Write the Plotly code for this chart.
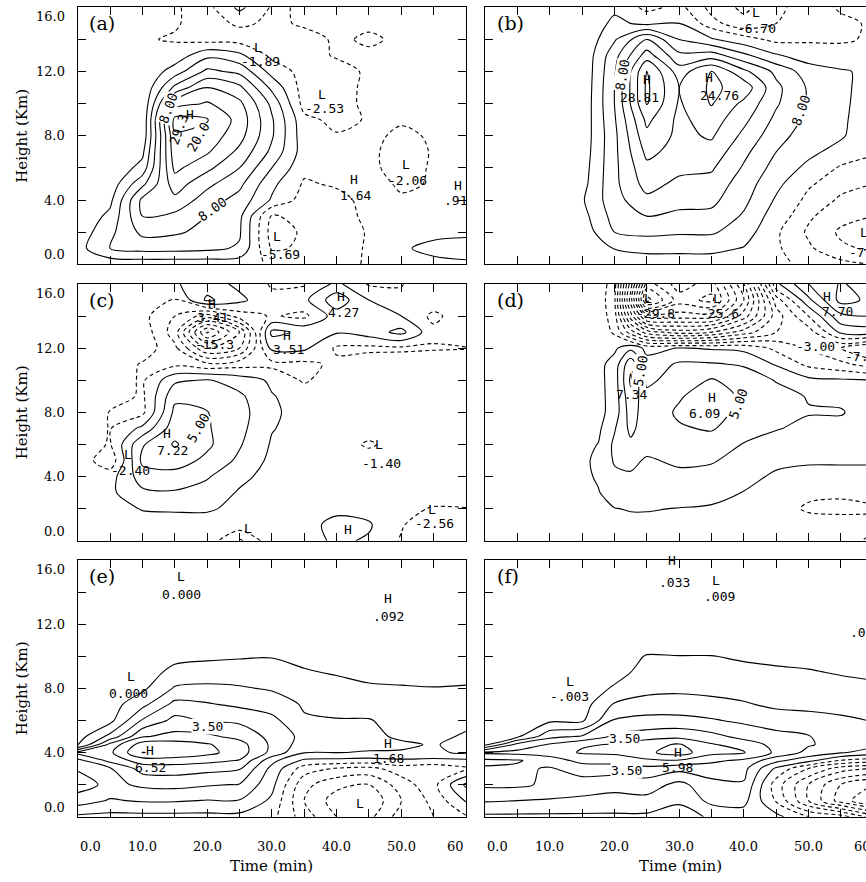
import plotly.graph_objects as go

# ---------------------------------------------------------------- grids
TIME = [0, 5, 10, 15, 20, 25, 30, 35, 40, 45, 50, 55, 60]
TIME_D = [0, 5, 10, 15, 17.5, 20, 22.5, 25, 30, 35, 40, 45, 50, 55, 60]
HEIGHT = list(range(17))
HEIGHT_FINE = [0, 1, 2, 3, 3.5, 4, 4.5, 5, 6, 7, 8, 9, 10, 11, 12, 13, 14, 15, 16]

TIME_TICKS = [0, 10, 20, 30, 40, 50, 60]
TIME_TICK_TEXT = ["0.0", "10.0", "20.0", "30.0", "40.0", "50.0", "60"]
HEIGHT_TICKS = [0, 4, 8, 12, 16]
HEIGHT_TICK_TEXT = ["0.0", "4.0", "8.0", "12.0", "16.0"]

# ---------------------------------------------------------------- fields (rows bottom -> top)
FIELD_A = [
    [0.3, 1.5, 1.5, 1.5, 1.5, 1.5, -0.5, -2.0, -1.5, 0.5, 2.0, 3.0, 3.2],
    [2.5, 8.0, 9.5, 9.5, 9.0, 7.5, -4.5, -3.5, -2.0, 0.5, 3.5, 5.0, 6.0],
    [1.5, 7.0, 13.0, 12.5, 11.0, 8.5, -5.69, -3.5, -1.8, 0.3, 2.5, 3.0, 3.0],
    [0.8, 5.0, 16.0, 15.0, 12.0, 9.0, -4.5, -2.5, -1.5, 0.8, 1.0, 1.5, 1.5],
    [0.3, 3.0, 17.0, 19.0, 14.0, 10.5, 3.5, -1.8, -1.3, 1.3, 0.5, 0.8, 0.8],
    [0.3, 1.5, 11.0, 22.0, 17.0, 13.0, 5.0, -0.5, 0.5, 1.64, -0.6, 0.3, 0.91],
    [0.3, 0.5, 5.5, 25.0, 21.0, 16.0, 8.0, 1.0, 1.0, 1.2, -2.06, 0.6, 0.6],
    [0.3, 0.3, 3.0, 26.5, 24.5, 19.0, 11.0, 2.0, 0.8, 0.8, -1.6, 0.3, 0.3],
    [0.3, 0.3, 1.0, 27.5, 26.5, 21.5, 12.5, 1.5, 0.3, 0.6, -0.5, 0.3, 0.3],
    [0.3, 0.3, 0.5, 29.3, 28.3, 22.5, 12.5, 1.0, -1.0, 0.3, 0.3, 0.3, 0.3],
    [0.3, 0.3, 0.3, 22.0, 24.5, 21.0, 11.0, -1.5, -2.53, 1.5, 0.3, 0.3, 0.3],
    [0.3, 0.3, 0.3, 13.0, 20.0, 17.0, 7.0, -1.8, -1.8, 1.0, 0.3, 0.3, 0.3],
    [0.3, 0.3, 0.3, 6.0, 13.0, 11.0, 2.5, -1.5, -1.2, 0.5, 0.3, 0.3, 0.3],
    [0.3, 0.3, 0.3, 1.5, 7.0, 5.0, -1.0, -1.2, 0.3, 0.3, 0.3, 0.3, 0.3],
    [0.3, 0.3, 0.3, -0.3, -1.5, -1.6, -1.89, -0.8, 0.3, -0.25, 0.3, 0.3, 0.3],
    [0.3, 0.3, 0.3, 0.3, -1.3, 0.5, -0.5, 0.3, 0.3, 0.3, 0.3, 0.3, 0.3],
    [0.3, 0.3, 0.3, 0.3, -1.2, 5.0, -0.4, 0.3, 0.3, 0.3, 0.3, 0.3, 0.3],
]

FIELD_B = [
    [0.3, 0.3, 0.3, 0.3, 1.5, 2.0, 2.0, 2.0, 1.5, 0.5, -0.5, -2.0, -3.0],
    [0.3, 0.3, 0.3, 0.5, 4.2, 5.0, 5.0, 5.0, 3.8, 0.5, -2.5, -5.5, -6.5],
    [0.3, 0.3, 0.3, 1.5, 8.0, 9.0, 8.5, 8.5, 6.0, 0.5, -3.5, -6.5, -7.8],
    [0.3, 0.3, 0.3, 2.5, 9.5, 12.0, 11.0, 11.0, 7.5, 2.0, -2.5, -5.0, -6.0],
    [0.3, 0.3, 0.3, 3.5, 10.5, 15.0, 13.5, 13.0, 9.0, 3.5, -1.0, -3.5, -4.5],
    [0.3, 0.3, 0.3, 2.5, 11.0, 17.5, 15.0, 14.5, 10.0, 5.0, 0.5, -2.0, -3.0],
    [0.3, 0.3, 0.3, 2.0, 11.0, 19.0, 17.0, 16.5, 11.5, 6.5, 3.0, -0.5, -1.5],
    [0.3, 0.3, 0.3, 1.5, 11.0, 21.0, 18.5, 18.5, 13.0, 8.0, 5.0, 2.5, 0.5],
    [0.3, 0.3, 0.3, 1.2, 11.0, 23.0, 19.0, 20.5, 15.0, 9.5, 6.0, 4.5, 1.0],
    [0.3, 0.3, 0.3, 1.0, 11.5, 25.0, 19.0, 22.0, 17.0, 11.0, 7.0, 4.8, 1.2],
    [0.3, 0.3, 0.3, 0.8, 12.0, 28.3, 19.5, 24.3, 19.0, 12.5, 7.5, 5.0, 1.5],
    [0.3, 0.3, 0.3, 0.6, 12.0, 28.81, 20.0, 24.76, 22.5, 13.0, 7.5, 5.0, 2.0],
    [0.3, 0.3, 0.3, 0.5, 11.5, 28.2, 18.0, 24.2, 17.0, 11.0, 6.0, 4.5, 3.0],
    [0.3, 0.3, 0.3, 0.5, 10.5, 22.0, 13.0, 14.0, 9.0, 4.5, 2.0, 1.0, 0.5],
    [0.3, 0.3, 0.3, 0.5, 7.5, 16.0, 8.0, 4.5, 1.5, -1.0, -0.5, -0.3, 0.3],
    [0.3, 0.3, 0.3, 0.5, 5.0, 3.0, 4.0, -2.0, -5.0, -3.0, -1.0, -0.5, 0.3],
    [0.3, 0.3, 0.3, 0.5, 3.0, -1.0, 1.0, -4.0, -6.70, -4.0, -1.0, 0.3, 0.3],
]

FIELD_C = [
    [0.3, 0.3, 0.3, 0.3, 0.3, -3.36, 0.3, 0.3, 1.3, 0.8, -1.2, -1.5, -1.2],
    [0.3, 0.3, 0.3, 0.3, 0.3, 0.3, 0.3, 0.3, 1.6, 1.2, -0.8, -2.56, -1.8],
    [0.3, 0.3, 1.1, 1.2, 1.2, 0.6, 0.3, 0.3, 0.5, 0.3, -0.3, -1.2, -1.1],
    [0.3, 0.6, 2.6, 2.8, 2.2, 0.8, 0.3, 0.3, 0.3, 0.3, 0.3, 0.3, 0.3],
    [0.3, 0.2, 4.0, 4.2, 3.2, 1.5, 0.3, 0.3, 0.3, 0.3, 0.3, 0.3, 0.3],
    [0.3, -2.40, 5.5, 6.0, 4.5, 2.6, 0.5, 0.3, 0.3, 0.3, 0.3, 0.3, 0.3],
    [0.3, -1.2, 4.8, 7.22, 5.4, 3.2, 0.8, 0.3, 0.3, -1.40, 0.3, 0.3, 0.3],
    [0.3, -1.1, 1.5, 6.2, 5.2, 3.6, 1.1, 0.3, 0.3, 0.3, 0.3, 0.3, 0.3],
    [0.3, -1.1, -1.5, 5.5, 5.05, 3.8, 1.3, 0.3, 0.3, 0.3, 0.3, 0.3, 0.3],
    [0.3, 0.3, -1.4, 4.5, 4.6, 3.4, 1.1, 0.3, 0.3, 0.3, 0.3, 0.3, 0.3],
    [0.3, 0.3, -1.3, 2.6, 3.2, 2.0, 0.7, -1.3, 0.3, 0.3, 0.3, 0.3, 0.3],
    [0.3, 0.3, -1.2, -1.5, -2.5, -1.8, -1.6, -1.5, -0.6, 0.3, 0.3, 0.3, 0.3],
    [0.3, 0.3, 0.2, -2.5, -9.0, -7.0, 1.5, 1.4, -1.3, -1.5, -1.4, -1.2, -1.1],
    [0.3, 0.3, 0.3, -4.0, -15.3, -9.0, 3.51, 2.6, 1.2, 2.0, 3.6, -0.5, 0.3],
    [0.3, 0.3, -0.4, -3.0, -6.0, -2.0, -0.8, -1.5, 2.0, 3.0, 1.0, -1.5, 0.3],
    [0.3, 0.3, 0.3, -1.2, 3.41, 1.5, -0.5, 0.5, 4.27, 1.0, -0.6, 0.3, 0.3],
    [0.3, 0.3, 0.3, 0.8, 2.0, 0.5, -1.2, -1.2, 1.5, -1.2, -1.1, 0.3, 0.3],
]

FIELD_D = [
    [0.3, 0.3, 0.3, 0.3, 0.3, 0.3, 0.3, 0.3, 0.3, 0.3, 0.3, 0.3, 0.3, -0.5, -1.3],
    [0.3, 0.3, 0.3, 0.3, 0.4, 0.5, 0.6, 0.6, 0.6, 0.6, 0.5, 0.3, 0.2, 0.05, -0.6],
    [0.3, 0.3, 0.3, 0.4, 0.7, 0.95, 1.1, 1.1, 0.95, 0.8, 0.5, 0.2, -1.4, -1.6, -1.2],
    [0.3, 0.3, 0.3, 0.5, 0.9, 1.8, 2.0, 2.0, 1.9, 1.6, 0.95, 0.4, -0.4, -0.6, -0.4],
    [0.3, 0.3, 0.3, 0.6, 1.2, 2.6, 2.8, 2.7, 2.6, 2.3, 1.4, 0.8, 0.5, 0.5, 0.5],
    [0.3, 0.3, 0.3, 0.6, 1.4, 3.2, 3.4, 2.8, 3.3, 3.2, 2.2, 1.3, 1.2, 1.2, 1.2],
    [0.3, 0.3, 0.3, 0.5, 1.05, 3.4, 4.6, 3.6, 4.0, 4.0, 2.9, 2.3, 1.8, 1.5, 1.3],
    [0.3, 0.3, 0.3, 0.5, 0.6, 2.8, 5.5, 3.9, 4.8, 5.2, 3.8, 3.1, 2.6, 2.2, 1.45],
    [0.3, 0.3, 0.3, 0.4, 0.4, 1.8, 6.0, 3.8, 5.3, 5.8, 4.4, 3.5, 3.1, 3.2, 1.6],
    [0.3, 0.3, 0.3, 0.4, 0.4, 1.8, 6.5, 3.5, 4.8, 6.09, 4.6, 3.6, 2.9, 2.4, 1.4],
    [0.3, 0.3, 0.3, 0.4, 0.4, 1.9, 7.34, 2.6, 3.8, 5.2, 4.0, 2.9, 1.5, 1.3, 1.05],
    [0.3, 0.3, 0.3, 0.4, 0.4, 1.8, 6.5, 1.8, 3.3, 3.2, 2.8, 0.8, -1.5, -2.5, -4.0],
    [0.3, 0.3, 0.3, 0.3, 0.3, 0.6, 2.5, 0.4, 1.1, 0.8, 0.5, -1.5, -3.2, -5.0, -7.5],
    [0.3, 0.3, 0.3, 0.3, 0.3, -1.3, -6.0, -10.0, -12.0, -11.0, -8.0, -5.0, -4.0, 1.5, 2.0],
    [0.3, 0.3, 0.3, 0.3, 0.2, -2.0, -12.0, -20.0, -20.0, -20.0, -14.0, -6.0, -1.0, 4.5, 5.0],
    [0.3, 0.3, 0.3, 0.3, 0.2, -2.5, -16.0, -29.8, -24.0, -25.6, -17.0, -4.0, 2.5, 7.70, 6.5],
    [0.3, 0.3, 0.3, 0.3, 0.2, -2.0, -14.0, -26.0, -22.0, -24.0, -15.0, 0.5, 5.0, 7.2, 6.0],
]

FIELD_E = [
    [0.3, 0.2, 0.2, 0.2, 0.2, 0.2, -0.2, -2.0, -3.5, -3.8, -2.0, -1.5, -0.6],
    [2.0, 1.4, 1.6, 1.6, 1.45, 1.45, 0.3, -2.5, -4.0, -4.3, -2.5, -1.2, 0.6],
    [3.0, 2.2, 2.7, 2.8, 2.6, 2.45, 0.8, -2.2, -3.2, -3.5, -2.0, -0.8, 1.7],
    [2.4, 2.4, 3.9, 4.0, 3.8, 3.6, 1.2, -1.0, -1.6, -1.8, -1.0, -1.2, -0.7],
    [2.2, 3.8, 5.0, 5.0, 4.8, 4.45, 1.8, 0.3, 0.2, 0.1, 0.3, 0.2, 0.3],
    [3.8, 4.3, 6.52, 6.3, 5.8, 5.0, 3.2, 1.55, 1.52, 1.45, 1.45, 1.4, 1.6],
    [0.2, 3.8, 6.0, 6.0, 5.6, 4.9, 3.3, 2.0, 1.6, 1.68, 1.6, 1.45, 1.7],
    [0.05, 1.8, 4.4, 4.8, 4.7, 4.2, 3.2, 2.2, 1.6, 1.65, 1.4, 1.3, 1.6],
    [0.02, 0.2, 2.6, 3.8, 3.4, 3.3, 2.8, 1.6, 1.55, 1.55, 1.2, 1.2, 1.3],
    [0.01, 0.05, 1.2, 2.8, 2.6, 2.3, 2.0, 1.4, 1.2, 1.1, 0.9, 0.9, 0.95],
    [0.01, 0.02, 0.3, 1.6, 1.7, 1.6, 1.4, 1.2, 0.9, 0.6, 0.55, 0.52, 0.55],
    [0.01, 0.01, 0.0, 0.8, 1.0, 1.0, 0.9, 0.6, 0.4, 0.3, 0.3, 0.3, 0.3],
    [0.01, 0.01, 0.01, 0.2, 0.3, 0.4, 0.45, 0.2, 0.15, 0.1, 0.1, 0.1, 0.1],
    [0.01, 0.01, 0.01, 0.02, 0.02, 0.02, 0.02, 0.02, 0.02, 0.03, 0.03, 0.02, 0.02],
    [0.01, 0.01, 0.01, 0.01, 0.01, 0.01, 0.02, 0.02, 0.03, 0.05, 0.04, 0.03, 0.02],
    [0.01, 0.01, 0.01, 0.01, 0.01, 0.01, 0.02, 0.03, 0.05, 0.092, 0.06, 0.03, 0.02],
    [0.01, 0.01, 0.01, 0.005, 0.01, 0.01, 0.02, 0.02, 0.03, 0.05, 0.04, 0.02, 0.02],
    [0.01, 0.01, 0.01, 0.0, 0.01, 0.01, 0.01, 0.02, 0.02, 0.03, 0.02, 0.02, 0.01],
    [0.01, 0.01, 0.01, 0.01, 0.01, 0.01, 0.01, 0.01, 0.01, 0.02, 0.02, 0.01, 0.01],
]

FIELD_F = [
    [0.3, 0.3, 0.3, 0.3, 0.3, 0.3, 0.2, 0.6, 1.0, 0.8, -0.5, -1.0, -3.0],
    [1.6, 1.5, 1.4, 1.3, 1.2, 1.2, 0.6, 1.8, 1.8, -0.6, -3.5, -6.0, -7.5],
    [2.7, 2.7, 2.3, 2.0, 1.8, 2.0, 1.2, 2.2, 2.4, -1.0, -3.5, -5.5, -6.5],
    [2.6, 2.7, 2.4, 3.0, 3.0, 3.2, 2.8, 3.0, 2.8, 0.3, -1.5, -3.0, -3.5],
    [2.3, 2.4, 3.0, 3.8, 3.9, 4.3, 4.4, 3.7, 3.3, 1.8, 0.8, -0.6, -1.0],
    [3.7, 3.8, 4.0, 4.6, 4.7, 5.3, 5.98, 4.8, 4.6, 3.3, 2.2, 1.6, 1.0],
    [0.2, 2.8, 3.6, 4.4, 4.55, 5.2, 5.6, 4.6, 4.0, 3.2, 2.6, 2.1, 1.8],
    [0.02, 0.3, 2.2, 2.6, 3.7, 4.0, 4.2, 3.8, 3.2, 2.8, 2.55, 2.0, 1.8],
    [0.01, 0.02, 0.3, 0.3, 2.6, 2.8, 2.8, 2.6, 2.3, 2.0, 1.9, 1.7, 1.45],
    [0.01, 0.01, 0.05, 0.05, 1.6, 1.9, 1.9, 1.8, 1.6, 1.3, 1.2, 1.1, 1.0],
    [0.01, 0.01, -0.003, 0.01, 0.6, 1.2, 1.3, 1.2, 1.1, 0.9, 0.85, 0.7, 0.6],
    [0.01, 0.01, 0.0, 0.01, 0.2, 0.8, 0.8, 0.75, 0.7, 0.6, 0.55, 0.45, 0.4],
    [0.01, 0.01, 0.01, 0.01, 0.05, 0.55, 0.52, 0.52, 0.4, 0.35, 0.3, 0.25, 0.2],
    [0.01, 0.01, 0.01, 0.01, 0.01, 0.05, 0.05, 0.05, 0.05, 0.05, 0.05, 0.05, 0.05],
    [0.01, 0.01, 0.01, 0.01, 0.01, 0.01, 0.02, 0.02, 0.02, 0.02, 0.02, 0.01, 0.002],
    [0.01, 0.01, 0.01, 0.01, 0.01, 0.01, 0.02, 0.015, 0.01, 0.01, 0.01, 0.01, 0.01],
    [0.01, 0.01, 0.01, 0.01, 0.01, 0.015, 0.025, 0.012, 0.015, 0.01, 0.01, 0.01, 0.01],
    [0.015, 0.015, 0.015, 0.015, 0.015, 0.02, 0.03, 0.009, 0.015, 0.015, 0.015, 0.015, 0.015],
    [0.02, 0.02, 0.02, 0.02, 0.02, 0.025, 0.033, 0.02, 0.02, 0.02, 0.02, 0.02, 0.02],
]

# contour levels (start, end, step): solid for positive, dashed for negative
LEVELS = {
    "a": ((4, 28, 4), (-4, 0, 4)),
    "b": ((4, 28, 4), (-6, 0, 3)),
    "c": ((1, 7, 2), (-15, -1, 2)),
    "d": ((1, 7, 2), (-29, -1, 2)),
    "e": ((0.5, 6.5, 1), (-7.5, -0.5, 1)),
    "f": ((0.5, 6.5, 1), (-7.5, -0.5, 1)),
}

# extreme / contour labels: (text, time, height, angle, on_line)
LABELS = {
    "a": [("L", 27.9, 13.5), ("-1.89", 28.2, 12.65), ("L", 37.8, 10.6), ("-2.53", 38.1, 9.7),
          ("H", 42.7, 5.3), ("1.64", 43.0, 4.3), ("L", 50.7, 6.2), ("-2.06", 50.9, 5.2),
          ("H", 58.8, 4.9), (".91", 58.3, 4.0), ("L", 30.8, 1.76), ("-5.69", 31.3, 0.64),
          ("H", 17.4, 9.3), ("29.3", 15.6, 8.4, -70),
          ("8.00", 20.8, 3.4, -35, True), ("8.00", 14.0, 9.7, -70, True), ("20.0", 18.6, 7.9, -60, True)],
    "b": [("L", 41.9, 15.7), ("-6.70", 42.0, 14.7), ("H", 25.0, 11.5), ("28.81", 23.9, 10.4),
          ("H", 34.6, 11.6), ("24.76", 36.3, 10.5), ("8.00", 48.8, 9.6, -70, True),
          ("8.00", 21.3, 11.8, -80, True), ("L", 58.6, 2.0)],
    "c": [("H", 20.8, 14.8), ("3.41", 20.9, 13.9), ("-15.3", 21.2, 12.2),
          ("H", 32.4, 12.8), ("3.51", 32.5, 11.9), ("H", 40.7, 15.2), ("4.27", 41.0, 14.2),
          ("H", 13.8, 6.7), ("7.22", 14.6, 5.6), ("5.00", 18.6, 7.0, -60, True),
          ("L", 7.8, 5.35), ("-2.40", 8.1, 4.35), ("L", 46.6, 6.0), ("-1.40", 47.0, 4.8),
          ("L", 54.8, 1.95), ("-2.56", 55.1, 1.1), ("H", 41.8, 0.67), ("L", 26.3, 0.79)],
    "d": [("L", 25.2, 15.1), ("-29.8", 26.3, 14.15), ("L", 35.8, 15.1), ("-25.6", 36.3, 14.15),
          ("H", 52.8, 15.25), ("7.70", 54.5, 14.3), ("-3.00", 51.0, 12.1, 0, True),
          ("H", 23.2, 10.3), ("7.34", 22.7, 9.1), ("5.00", 24.1, 10.6, -80, True),
          ("H", 35.1, 8.9), ("6.09", 33.9, 7.95), ("5.00", 39.1, 8.5, -70, True)],
    "e": [("L", 16.0, 14.95), ("0.000", 16.1, 13.85), ("L", 8.2, 8.75), ("0.000", 7.8, 7.65),
          ("3.50", 20.0, 5.6, 0, True), ("H", 11.2, 4.1), ("6.52", 11.2, 3.04),
          ("H", 48.0, 4.54), ("1.68", 48.0, 3.6), ("H", 48.0, 13.6), (".092", 48.1, 12.5),
          ("L", 43.6, 0.8)],
    "f": [("H", 28.9, 15.95), (".033", 29.3, 14.6), ("L", 35.7, 14.75), (".009", 36.2, 13.75),
          ("L", 13.1, 8.4), ("-.003", 13.1, 7.5), ("L", 58.9, 12.2),
          ("3.50", 21.5, 4.85, 0, True), ("3.50", 21.9, 2.9, 0, True),
          ("H", 29.8, 4.0), ("5.98", 29.7, 3.05)],
}
# labels cut by the right border, anchored at their left end
EDGE_LABELS = {"b": [("-7.80", 55.9, 0.75)], "d": [("-7.50", 55.3, 11.5)], "f": [(".002", 56.1, 11.5)]}

PANELS = [
    ("a", TIME, HEIGHT, FIELD_A),
    ("b", TIME, HEIGHT, FIELD_B),
    ("c", TIME, HEIGHT, FIELD_C),
    ("d", TIME_D, HEIGHT, FIELD_D),
    ("e", TIME, HEIGHT_FINE, FIELD_E),
    ("f", TIME, HEIGHT_FINE, FIELD_F),
]

# ---------------------------------------------------------------- page geometry
W, H = 866, 882
PX_PER_MIN = 388.3 / 60.0
LEFT_DOM = [77.7 / W, 466.0 / W]
RIGHT_DOM = [485.0 / W, 1.0]
RIGHT_END = (W - 485.0) / PX_PER_MIN
ROW_DOMS = [[1 - 264.3 / H, 1 - 7.3 / H], [1 - 540.7 / H, 1 - 284.0 / H], [1 - 816.7 / H, 1 - 560.0 / H]]

LABEL_FONT = dict(family="DejaVu Sans Mono", size=13, color="black")
SERIF = "DejaVu Serif"

fig = go.Figure()
black = [[0, "black"], [1, "black"]]

for i, (name, tt, hh, field) in enumerate(PANELS):
    idx = i + 1
    xa = "x" if idx == 1 else f"x{idx}"
    ya = "y" if idx == 1 else f"y{idx}"
    (ps, pe, pd), (ns, ne, nd) = LEVELS[name]
    for (s, e, d, dash) in [(ps, pe, pd, "solid"), (ns, ne, nd, "4px,3px")]:
        fig.add_trace(go.Contour(
            x=tt, y=hh, z=field, xaxis=xa, yaxis=ya,
            autocontour=False,
            contours=dict(start=s, end=e, size=d, coloring="lines", showlabels=False),
            colorscale=black, showscale=False, hoverinfo="skip",
            line=dict(width=1.1, dash=dash, smoothing=0.9),
        ))

    left = (i % 2 == 0)
    row = i // 2
    axis_common = dict(showline=True, linecolor="black", linewidth=1.3, ticks="inside",
                       ticklen=8, tickwidth=1.1, tickcolor="black", showgrid=False,
                       zeroline=False, showticklabels=False, fixedrange=True)
    fig.update_layout(**{
        ("xaxis" if idx == 1 else f"xaxis{idx}"): dict(
            axis_common, domain=LEFT_DOM if left else RIGHT_DOM,
            range=[0, 60] if left else [0, RIGHT_END],
            tick0=0, dtick=5, mirror="allticks", anchor=ya),
        ("yaxis" if idx == 1 else f"yaxis{idx}"): dict(
            axis_common, domain=ROW_DOMS[row], range=[0, 16], tick0=0, dtick=2,
            mirror="allticks" if left else False, anchor=xa),
    })

    # panel tag
    fig.add_annotation(x=1.5, y=15.0, xref=xa, yref=ya, text=f"({name})", showarrow=False,
                       xanchor="left", yanchor="middle",
                       font=dict(family=SERIF, size=19, color="black"))

    for item in LABELS[name]:
        text, t, z = item[0], item[1], item[2]
        angle = item[3] if len(item) > 3 else 0
        inline = item[4] if len(item) > 4 else False
        fig.add_annotation(x=t, y=z, xref=xa, yref=ya, text=text, showarrow=False,
                           textangle=angle, font=LABEL_FONT, xanchor="center", yanchor="middle",
                           bgcolor="white" if inline else "rgba(0,0,0,0)", borderpad=0)
    for text, t, z in EDGE_LABELS.get(name, []):
        fig.add_annotation(x=t, y=z, xref=xa, yref=ya, text=text, showarrow=False,
                           xanchor="left", yanchor="middle", font=LABEL_FONT)

    # height tick labels and title on the left column
    if left:
        for v, s in zip(HEIGHT_TICKS, HEIGHT_TICK_TEXT):
            yanchor = "top" if v == HEIGHT_TICKS[-1] else ("bottom" if v == 0 else "middle")
            fig.add_annotation(x=67.0 / W, y=v, xref="paper", yref=ya, text=s, showarrow=False,
                               xanchor="right", yanchor=yanchor,
                               font=dict(family=SERIF, size=13, color="black"))
        mid = (ROW_DOMS[row][0] + ROW_DOMS[row][1]) / 2
        fig.add_annotation(x=22.0 / W, y=mid, xref="paper", yref="paper", text="Height (Km)",
                           showarrow=False, textangle=-90, xanchor="center", yanchor="middle",
                           font=dict(family=SERIF, size=15, color="black"))

    # time tick labels and title on the bottom row
    if row == 2:
        x_end = 60 if left else RIGHT_END
        for v, s in zip(TIME_TICKS, TIME_TICK_TEXT):
            xanchor = "left" if v == 0 else ("right" if v == 60 else "center")
            xv = min(v, x_end - 0.01)
            fig.add_annotation(x=xv, y=1 - 846.0 / H, xref=xa, yref="paper", text=s,
                               showarrow=False, xanchor=xanchor, yanchor="middle",
                               xshift=(v - xv) * PX_PER_MIN,
                               font=dict(family=SERIF, size=13, color="black"))
        fig.add_annotation(x=(271.0 if left else 680.0) / W, y=1 - 866.0 / H, xref="paper",
                           yref="paper", text="Time (min)", showarrow=False,
                           xanchor="center", yanchor="middle",
                           font=dict(family=SERIF, size=15, color="black"))

fig.update_layout(width=W, height=H, margin=dict(l=0, r=0, t=0, b=0),
                  paper_bgcolor="white", plot_bgcolor="white", showlegend=False)

fig.write_html("out.html")
